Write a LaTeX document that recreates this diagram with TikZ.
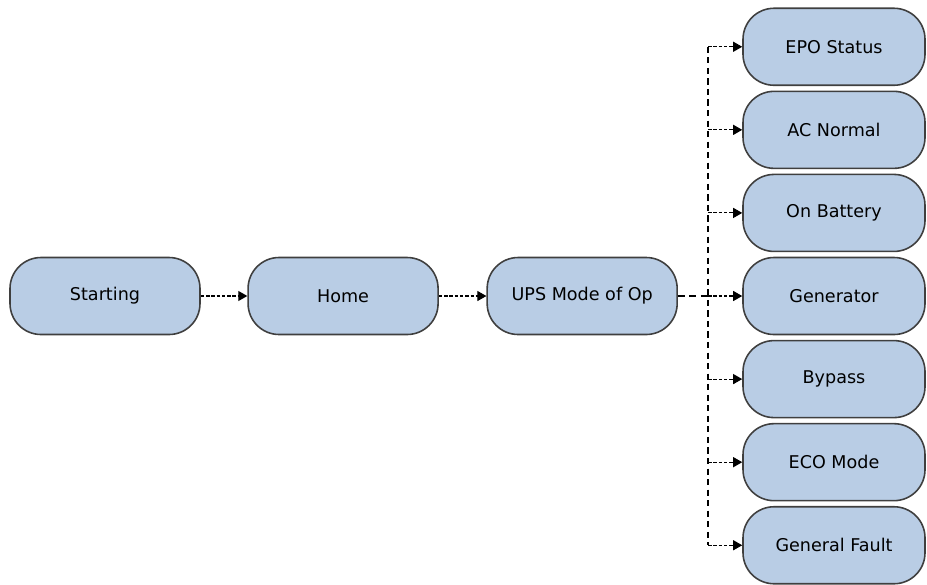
\documentclass[tikz,border=0pt]{standalone}
\usepackage{fontspec}
\setmainfont{DejaVu Sans}
\usepackage{tikz}
\usetikzlibrary{arrows.meta,positioning}
\definecolor{boxfill}{HTML}{B9CDE5}
\definecolor{boxline}{HTML}{3F3F3F}
\tikzset{
  statebox/.style={draw=boxline, fill=boxfill, line width=0.9pt, rounded corners=0.62cm,
                   minimum width=3.8cm, minimum height=1.54cm, font=\fontsize{10}{12}\selectfont,
                   align=center, inner sep=2pt},
  modebox/.style={statebox, minimum width=3.64cm},
  flowarr/.style={-{Triangle[length=1.8mm,width=2mm]}, semithick, black,
                  dash pattern=on 2pt off 1pt},
  busline/.style={semithick, black, dash pattern=on 3.5pt off 2.5pt},
  trunkline/.style={line width=1.6pt, black, dash pattern=on 4pt off 2.5pt}
}

\begin{document}
\begin{tikzpicture}[node distance=0.09cm]
        \useasboundingbox (0,0) rectangle (18.54,-11.68);

        % main chain
        \node[statebox] (start) at (2.1,-5.92) {Starting};
        \node[statebox, right=0.93cm of start] (home) {Home};
        \node[statebox, right=0.95cm of home] (ups) {UPS Mode of Op};

        % modes column, stacked around Generator
        \node[modebox] (gen) at (16.68,-5.92) {Generator};
        \node[modebox, above=of gen] (batt) {On Battery};
        \node[modebox, above=of batt] (acn) {AC Normal};
        \node[modebox, above=of acn] (epo) {EPO Status};
        \node[modebox, below=of gen] (byp) {Bypass};
        \node[modebox, below=of byp] (eco) {ECO Mode};
        \node[modebox, below=of eco] (fault) {General Fault};

        \draw[flowarr] (start) -- (home);
        \draw[flowarr] (home) -- (ups);

        % split point feeding the column
        \coordinate (split) at (14.16,-5.92);
        \draw[trunkline] (ups.east) -- (split);
        \draw[busline] (split |- epo.west) -- (split |- fault.west);
        \foreach \m in {epo,acn,batt,gen,byp,eco,fault}
          \draw[flowarr] (split |- \m.west) -- (\m.west);
      \end{tikzpicture}
\end{document}
